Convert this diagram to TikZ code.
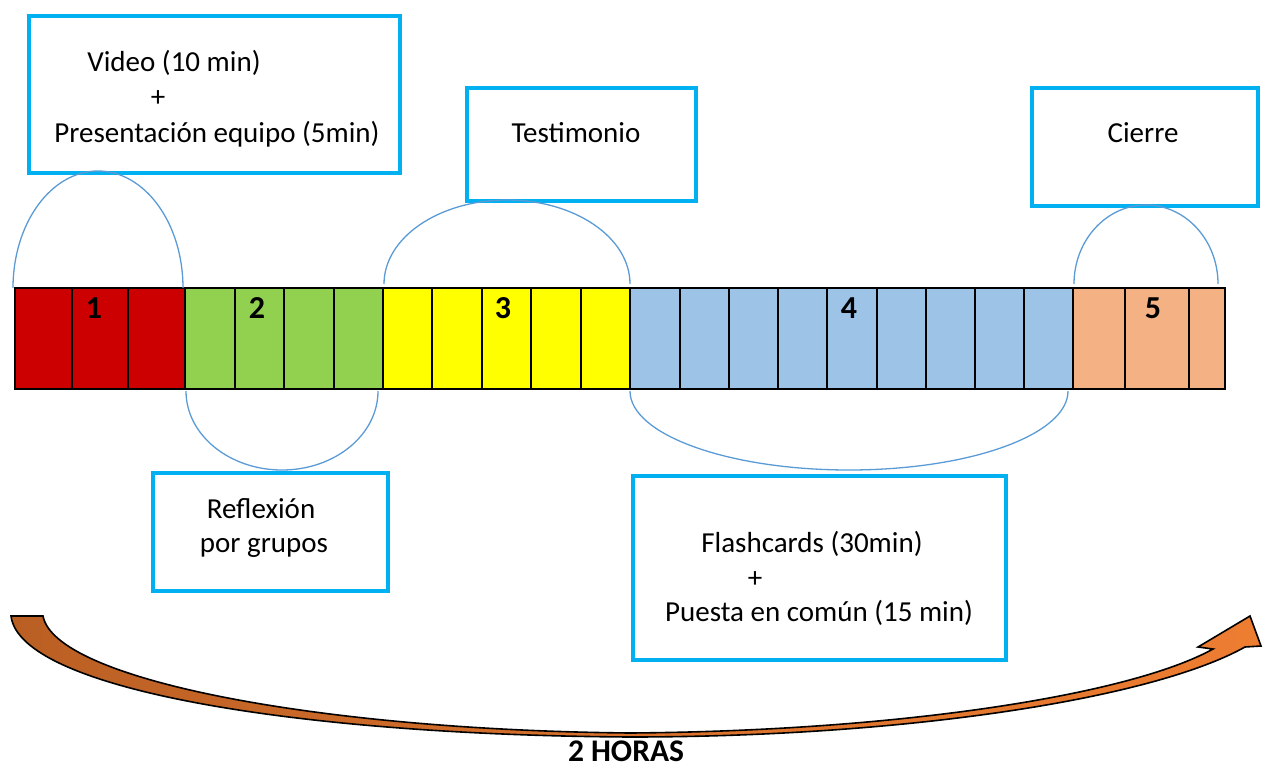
\documentclass[tikz,border=0pt]{standalone}
\usepackage{fontspec}
\setmainfont{Carlito}
\definecolor{boxblue}{HTML}{00B0F0}
\definecolor{arcblue}{HTML}{5B9BD5}
\definecolor{cred}{HTML}{CC0000}
\definecolor{cgreen}{HTML}{92D050}
\definecolor{cyellow}{HTML}{FFFF00}
\definecolor{cblue}{HTML}{9DC3E6}
\definecolor{corange}{HTML}{F4B183}
\definecolor{abrown}{HTML}{BA5F24}
\definecolor{aorange}{HTML}{ED7D31}
\begin{document}
\begin{tikzpicture}[x=1pt,y=-1pt,
  box/.style={draw=boxblue,line width=4pt,inner sep=0pt,anchor=north west},
  txt/.style={font=\fontsize{29}{35}\selectfont,inner sep=0pt,anchor=base},
  num/.style={font=\fontsize{32}{38}\selectfont\bfseries,inner sep=0pt,anchor=base},
  arcline/.style={draw=arcblue,line width=1.3pt},
  cell/.style={draw=black,line width=2pt}]
\useasboundingbox (0,0) rectangle (1263,767);

% time bar cells
\foreach \a/\b/\c in {15/72/cred,72/128/cred,128/185/cred,
  185/235/cgreen,235/284/cgreen,284/334/cgreen,334/383/cgreen,
  383/432/cyellow,432/482/cyellow,482/531/cyellow,531/581/cyellow,581/630/cyellow,
  630/680/cblue,680/729/cblue,729/778/cblue,778/827/cblue,827/877/cblue,877/926/cblue,926/975/cblue,975/1024/cblue,1024/1073/cblue,
  1073/1125/corange,1125/1189/corange,1189/1225/corange}
  \draw[cell,fill=\c] (\a,288) rectangle (\b,389);
\draw[line width=2pt] (15,288) rectangle (1225,389);

\node[num] (n1) at (94,318) {1};
\node[num] (n2) at (257,318) {2};
\node[num] (n3) at (503,318) {3};
\node[num] (n4) at (849,318) {4};
\node[num] (n5) at (1153,318) {5};

% boxes
\node[box,minimum width=371pt,minimum height=157pt] (b1) at (27,14) {};
\node[txt] (t1a) at (174,72) {Video (10 min)};
\node[txt] (t1b) at (158,107) {+};
\node[txt] (t1c) at (217,143) {Presentación equipo (5min)};

\node[box,minimum width=229pt,minimum height=113pt] (b2) at (465,86) {};
\node[txt] (t2) at (576,143) {Testimonio};

\node[box,minimum width=226pt,minimum height=118pt] (b3) at (1030,86) {};
\node[txt] (t3) at (1143,143) {Cierre};

\node[box,minimum width=235pt,minimum height=118pt] (b4) at (151,471) {};
\node[txt] (t4a) at (261,518) {Reflexión};
\node[txt] (t4b) at (264,552) {por grupos};

\node[box,minimum width=373pt,minimum height=184pt] (b5) at (631,474) {};
\node[txt] (t5a) at (812,552) {Flashcards (30min)};
\node[txt] (t5b) at (755,587) {+};
\node[txt] (t5c) at (819,621) {Puesta en común (15 min)};

% arcs
\coordinate (a1) at (13,288);
\coordinate (a2) at (384,284);
\coordinate (a3) at (1074,284);
\coordinate (a4) at (186,391);
\coordinate (a5) at (630,391);
\draw[arcline] (a1) arc[start angle=180,end angle=360,x radius=85,y radius=117];
\draw[arcline] (a2) arc[start angle=180,end angle=360,x radius=123,y radius=84];
\draw[arcline] (a3) arc[start angle=180,end angle=360,x radius=72,y radius=79];
\draw[arcline] (a4) arc[start angle=180,end angle=0,x radius=96,y radius=79];
\draw[arcline] (a5) arc[start angle=180,end angle=0,x radius=219,y radius=79];

% big curved arrow
\coordinate (tl) at (11,616);
\coordinate (tr) at (43,616);
\coordinate (bo) at (630,737);
\coordinate (bi) at (630,733);
\coordinate (hl) at (1245,647);
\coordinate (hu) at (1213,649);
\draw[line width=1.6pt,line join=miter,left color=abrown,right color=aorange,middle color=abrown!40!aorange]
  (tl) .. controls (20,690) and (300,735) .. (bo)
  .. controls (900,737) and (1150,700) .. (hl)
  -- (1261,646) -- (1250,616) -- (1198,647) -- (hu)
  .. controls (1130,695) and (900,731) .. (bi)
  .. controls (320,730) and (55,680) .. (tr) -- cycle;
\node[num,font=\fontsize{31.5}{38}\selectfont\bfseries] (hrs) at (626,761) {2 HORAS};
\end{tikzpicture}
\end{document}
